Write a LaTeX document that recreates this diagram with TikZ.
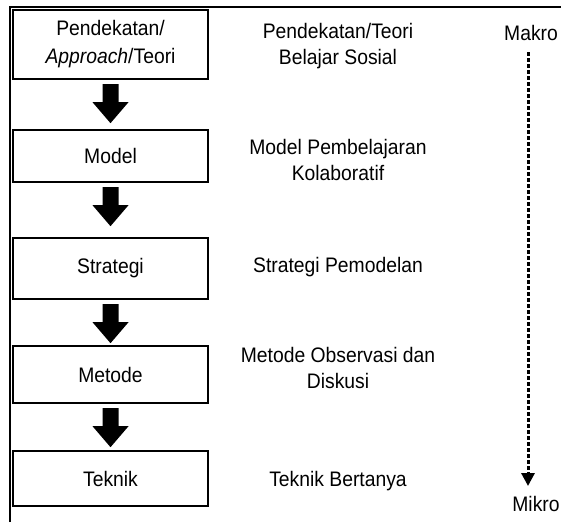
\documentclass[tikz,border=0pt]{standalone}
\usepackage{fontspec}
\setmainfont[FakeStretch=0.92]{Liberation Sans}
\usetikzlibrary{arrows.meta, positioning, calc}
\tikzset{levelbox/.style={draw=black, line width=2.4pt, minimum width=195pt, align=center, inner sep=0pt, font=\fontsize{21}{28}\selectfont},
levellabel/.style={align=center, inner sep=0pt, font=\fontsize{21}{26}\selectfont}}

\begin{document}
\begin{tikzpicture}[
        line join=miter,
        scaleword/.style={inner sep=0pt, font=\fontsize{21}{26}\selectfont},
        scaleline/.style={line width=3pt, dash pattern=on 4pt off 2pt, -{Triangle[width=13pt, length=13pt]}}
    ]
        \useasboundingbox (0pt, 0pt) rectangle (561pt, -522pt);
        % Frame
        \draw[line width=2pt] (10pt, -522pt) -- (10pt, -7pt) -- (561pt, -7pt);
        % Boxes
        \foreach \name/\y/\h/\txt in {
            approach/44.5/69/{Pendekatan/\\\textit{Approach}/Teori},
            model/156/52/{Model},
            strategi/268.5/61/{Strategi},
            metode/374.5/57/{Metode},
            teknik/478.5/55/{Teknik}} {
            \node[levelbox, minimum height=\h pt] (\name) at (110.5pt, -\y pt) {\txt};
        }
        % Block arrows
        \foreach \a/\b in {approach/model, model/strategi, strategi/metode, metode/teknik} {
            \fill ($(\a.south) + (-8pt, -4pt)$) -- ++(16pt, 0pt) -- ++(0pt, -18pt) -- ++(10pt, 0pt)
                -- ++(-18pt, -21pt) -- ++(-18pt, 21pt) -- ++(10pt, 0pt) -- cycle;
        }
        % Examples
        \node[levellabel] (approachtxt) at (338pt, -46pt) {Pendekatan/Teori\\Belajar Sosial};
        \node[levellabel] (modeltxt) at (338pt, -160pt) {Model Pembelajaran\\Kolaboratif};
        \node[levellabel] (strategitxt) at (338pt, -267pt) {Strategi Pemodelan};
        \node[levellabel] (metodetxt) at (338pt, -368pt) {Metode Observasi dan\\Diskusi};
        \node[levellabel] (tekniktxt) at (338pt, -481pt) {Teknik Bertanya};
        % Scale
        \node[scaleword] (makro) at (531pt, -33pt) {Makro};
        \node[scaleword] (mikro) at (536pt, -504pt) {Mikro};
        \coordinate (scaletop) at (528pt, -52pt);
        \coordinate (scalebot) at (528pt, -486pt);
        \draw[scaleline] (scaletop) -- (scalebot);
    \end{tikzpicture}
\end{document}
